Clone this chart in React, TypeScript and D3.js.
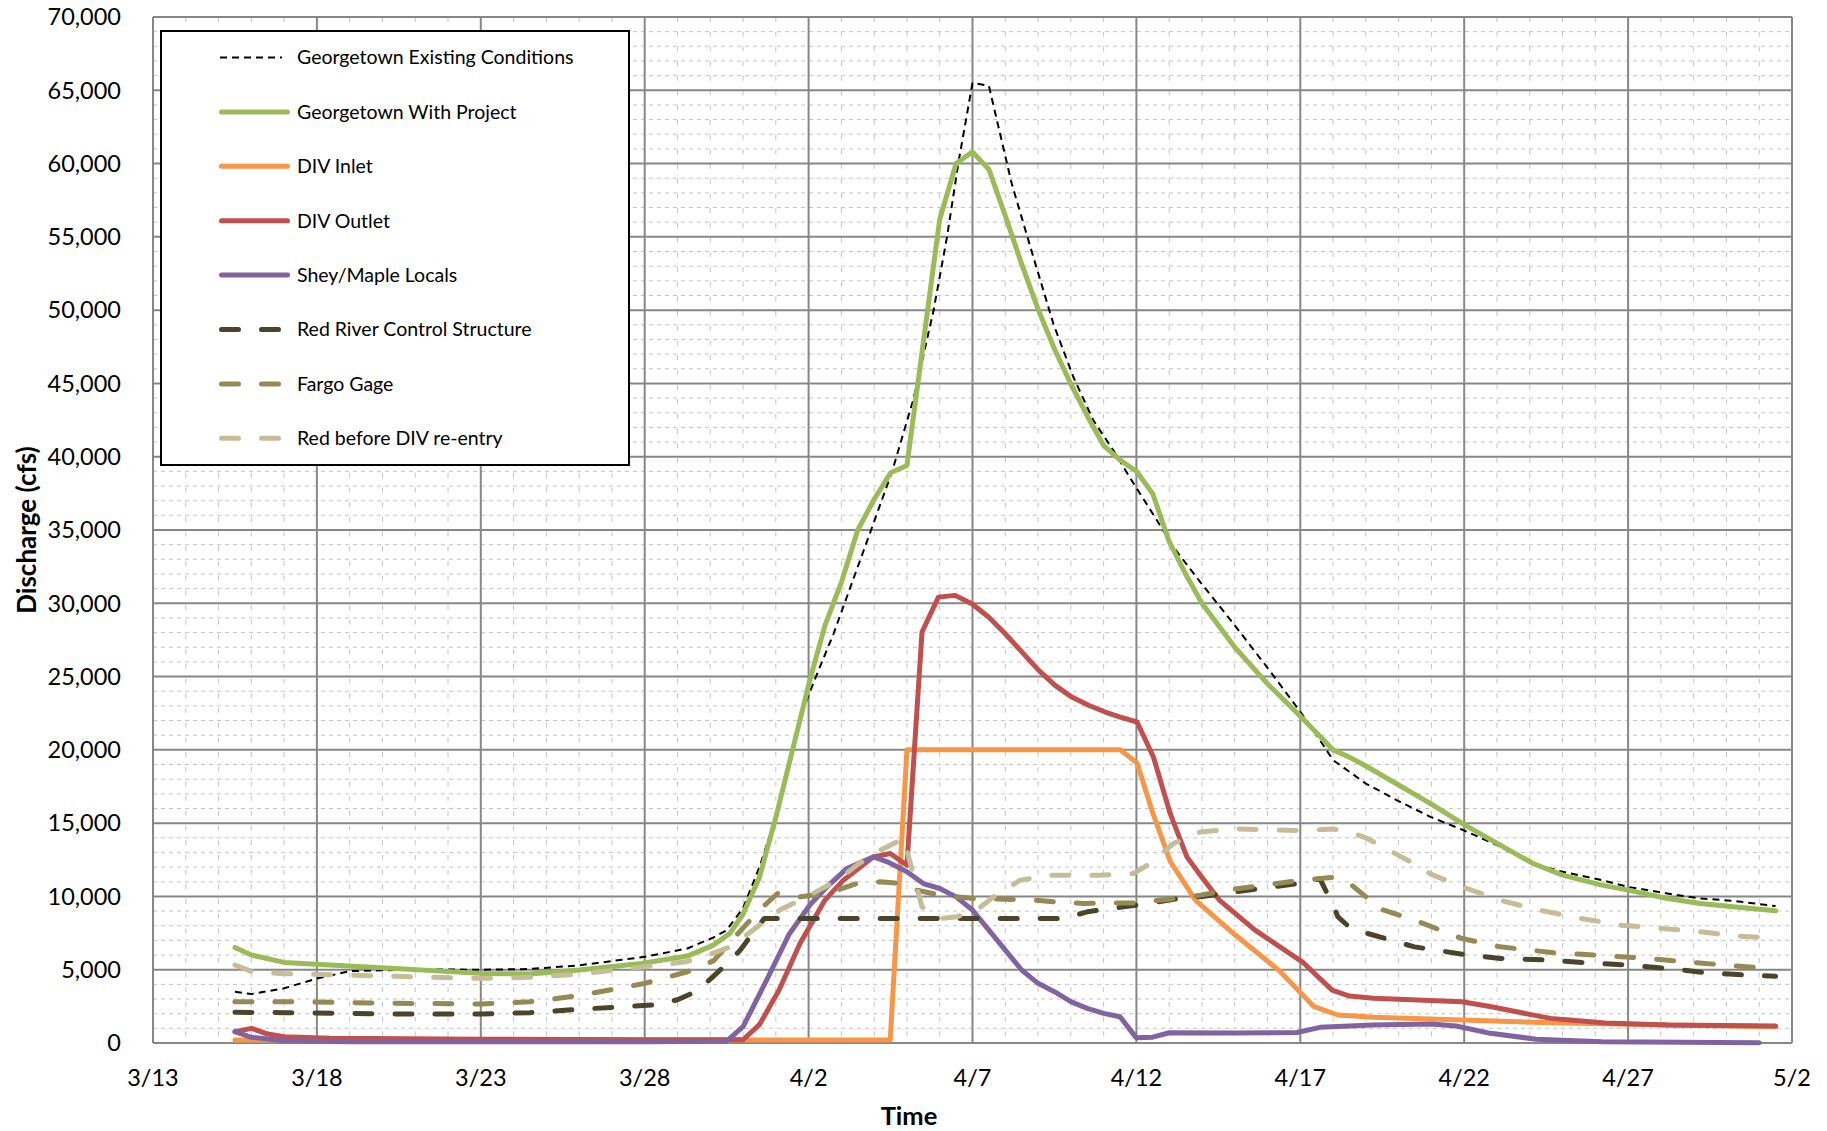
import React from "react";
import * as d3 from "d3";

// ---------- data ----------
const YEAR = 2009;
const xTickLabels = ["3/13", "3/18", "3/23", "3/28", "4/2", "4/7", "4/12", "4/17", "4/22", "4/27", "5/2"];
const yTickValues = [0, 5000, 10000, 15000, 20000, 25000, 30000, 35000, 40000, 45000, 50000, 55000, 60000, 65000, 70000];

type Pt = [number, number]; // [days after 3/13 00:00, discharge in cfs]

const georgetownExisting: Pt[] = [
  [2.5, 3500], [3, 3340], [4, 3730], [5, 4400], [6, 4900], [8, 5020], [10, 5000], [11.5, 5050], [13, 5300],
  [15, 5880], [16.3, 6450], [17.1, 7200], [17.5, 7700], [18, 9200], [18.5, 12000], [19, 15400], [19.74, 22240],
  [20.2, 24860], [20.76, 27920], [21.68, 33600], [22.54, 38940], [23.2, 43940], [23.81, 49960], [24.22, 54960],
  [24.58, 60190], [25, 65500], [25.5, 65300], [26.2, 58600], [26.86, 53600], [27.47, 49050], [28.08, 45420],
  [28.69, 42460], [29.3, 40420], [29.92, 38150], [30.63, 35650], [31.13, 33830], [32, 31300], [33, 28500],
  [34, 25600], [35, 22600], [35.5, 21000], [36, 19300], [36.5, 18500], [37, 17700], [38, 16500], [39, 15400],
  [40, 14500], [41, 13500], [42.1, 12250], [43, 11680], [44.2, 11110], [45, 10650], [46.2, 10200], [47.2, 9860],
  [48.2, 9700], [49.5, 9340],
];

const georgetownWithProject: Pt[] = [
  [2.5, 6520], [3, 6000], [4, 5500], [5.4, 5320], [7.4, 5090], [10, 4750], [11.5, 4700], [13, 4980], [14.9, 5430],
  [16.3, 5930], [17.1, 6680], [17.6, 7480], [18, 8800], [18.5, 11300], [19, 15400], [20.05, 24860], [20.5, 28490],
  [21, 31430], [21.5, 35000], [22, 37100], [22.5, 38900], [23, 39400], [24, 56200], [24.5, 60000], [25, 60800],
  [25.5, 59600], [26, 56440], [26.5, 53140], [27, 50070], [27.5, 47350], [28, 44960], [28.5, 42800], [29, 40760],
  [29.5, 39780], [30, 39010], [30.5, 37470], [31, 34200], [31.5, 32000], [32, 30000], [33, 27000], [34, 24500],
  [35, 22300], [36, 20000], [36.5, 19500], [37, 18900], [38, 17600], [39, 16300], [40, 14900], [41.1, 13500],
  [42.1, 12250], [43, 11450], [44.2, 10770], [45, 10430], [46.2, 9860], [47.2, 9520], [48.2, 9290], [49.5, 9020],
];

const divInlet: Pt[] = [
  [2.5, 200], [22.49, 200], [23, 20000], [29.51, 20000], [30.02, 19100], [30.5, 15700], [31.03, 12400],
  [31.8, 9750], [33, 7400], [34.34, 4975], [35.42, 2475], [36.15, 1910], [37.23, 1750], [39.93, 1570],
  [42.63, 1380], [46.25, 1230], [49.5, 1110],
];

const divOutlet: Pt[] = [
  [2.5, 770], [3, 1000], [3.5, 610], [4, 430], [5.4, 320], [10, 260], [15, 230], [18, 220], [18.5, 1250],
  [19.1, 3610], [19.74, 6800], [20.5, 9750], [21.06, 11110], [21.98, 12700], [22.49, 12930], [23, 12130],
  [23.46, 28040], [23.96, 30420], [24.47, 30540], [24.98, 29970], [25.49, 29060], [26, 27920], [26.51, 26670],
  [27.02, 25420], [27.52, 24400], [28.03, 23600], [28.54, 23040], [29.05, 22580], [29.51, 22240], [30.02, 21900],
  [30.52, 19510], [31.03, 15660], [31.54, 12700], [31.95, 11450], [32.53, 9750], [33.62, 7700], [35.06, 5540],
  [35.97, 3610], [36.5, 3200], [37.23, 3050], [39.93, 2820], [40.83, 2470], [42.63, 1680], [44.3, 1360],
  [46.2, 1220], [49.5, 1160],
];

const sheyMapleLocals: Pt[] = [
  [2.5, 770], [3, 390], [4, 160], [6, 90], [10, 80], [15, 80], [17.5, 120], [18, 1110], [18.7, 4200],
  [19.4, 7400], [20.05, 9450], [20.56, 10650], [21.17, 11910], [21.98, 12700], [22.4, 12360], [23, 11680],
  [23.5, 10880], [24, 10540], [24.5, 9970], [25, 9070], [25.5, 7700], [26, 6340], [26.5, 4980], [27, 4070],
  [27.5, 3500], [28, 2820], [28.5, 2360], [29, 2020], [29.5, 1790], [30, 350], [30.5, 400], [31, 700],
  [33, 680], [34.9, 720], [35.6, 1070], [37.2, 1230], [39, 1300], [39.75, 1160], [40.8, 660], [42.2, 260],
  [44.2, 90], [49, 20],
];

const redRiverControl: Pt[] = [
  [2.5, 2090], [4, 2070], [7.4, 1980], [10, 1980], [11.5, 2070], [13, 2300], [15.3, 2600], [16, 2950],
  [16.6, 3550], [17.07, 4500], [17.5, 5400], [17.9, 6300], [18.3, 7500], [18.65, 8500], [27.8, 8500],
  [28.5, 8950], [29.6, 9290], [30.2, 9470], [31.3, 9860], [32, 10000], [33, 10300], [34, 10600], [35, 10900],
  [35.6, 11200], [36, 9400], [36.15, 8600], [36.5, 7900], [37.04, 7480], [38.48, 6560], [40.12, 6000],
  [41.1, 5770], [42.53, 5660], [43.75, 5470], [44.97, 5320], [46.19, 5090], [47.41, 4790], [48.63, 4630],
  [49.5, 4550],
];

const fargoGage: Pt[] = [
  [2.5, 2820], [4, 2820], [7.4, 2710], [10, 2660], [11.5, 2820], [13, 3230], [15, 4070], [16.3, 4860],
  [17.1, 5600], [17.9, 7600], [18.5, 9070], [19.05, 10200], [19.74, 9970], [20.56, 10200], [21.47, 10880],
  [22.18, 11000], [22.8, 10880], [23.3, 10430], [24.02, 10090], [25.03, 9860], [26.86, 9750], [27.47, 9630],
  [28.39, 9520], [29.92, 9560], [30.93, 9790], [31.95, 10090], [33, 10500], [34, 10800], [35, 11100],
  [36, 11300], [36.5, 10900], [37.04, 9900], [37.23, 9290], [38.49, 8380], [39.93, 7130], [41.1, 6560],
  [42.73, 6160], [43.95, 6000], [45.17, 5840], [46.39, 5610], [47.61, 5380], [48.83, 5160], [49.5, 5050],
];

const redBeforeDivReentry: Pt[] = [
  [2.5, 5320], [3.04, 4860], [4, 4730], [7.4, 4550], [10, 4410], [11.5, 4480], [13, 4700], [15, 5200],
  [16.26, 5540], [17.07, 6110], [17.62, 6560], [18.3, 7700], [19.12, 9070], [19.94, 9970], [20.8, 11000],
  [21.47, 12130], [22.18, 13150], [22.9, 13950], [23.46, 9290], [24.02, 8500], [24.52, 8610], [25.13, 9070],
  [25.64, 9970], [26.46, 11110], [27.37, 11450], [28.9, 11450], [29.92, 11570], [30.42, 12250], [31.13, 13610],
  [31.95, 14400], [33, 14600], [34, 14550], [35, 14500], [36, 14600], [36.5, 14400], [37, 14000], [37.5, 13400],
  [38, 12800], [38.5, 12200], [39, 11500], [40, 10600], [41.16, 9700], [42.3, 9070], [43.55, 8500],
  [44.77, 8040], [45.99, 7820], [47.2, 7590], [48.4, 7290], [49.5, 7150],
];

const seriesNames = [
  "Georgetown Existing Conditions",
  "Georgetown With Project",
  "DIV Inlet",
  "DIV Outlet",
  "Shey/Maple Locals",
  "Red River Control Structure",
  "Fargo Gage",
  "Red before DIV re-entry",
];
const seriesData: Pt[][] = [
  georgetownExisting, georgetownWithProject, divInlet, divOutlet,
  sheyMapleLocals, redRiverControl, fargoGage, redBeforeDivReentry,
];

// ---------- styles ----------
const seriesColors = ["#000000", "#9BBB59", "#F79646", "#C0504D", "#8064A2", "#4A452A", "#948A54", "#C4BD97"];
const seriesWidths = [2, 5, 5, 5, 5, 5, 5, 5];
const seriesDash = ["7 5", "", "", "", "", "17 23", "17 23", "17 23"];
const seriesCaps = ["butt", "round", "round", "round", "round", "round", "round", "round"];

const W = 1827;
const H = 1131;
const PLOT = { left: 153, right: 1792, top: 17, bottom: 1043 };
const FONT = "Lato, 'Open Sans', sans-serif";

export default function App() {
  const parse = d3.utcParse("%Y/%m/%d");
  const tickDates = xTickLabels.map((l) => parse(`${YEAR}/${l}`) as Date);
  const start = tickDates[0];
  const end = tickDates[tickDates.length - 1];

  const x = d3.scaleUtc().domain([start, end]).range([PLOT.left, PLOT.right]);
  const y = d3.scaleLinear().domain([0, 70000]).range([PLOT.bottom, PLOT.top]);
  const toDate = (d: number) => new Date(start.getTime() + d * 864e5);
  const line = d3
    .line<Pt>()
    .x((p) => x(toDate(p[0])))
    .y((p) => y(p[1]));

  const majorSet = new Set(tickDates.map((d) => +d));
  const minorDays = d3.utcDay.range(start, end).filter((d) => !majorSet.has(+d));
  const minorY = d3.range(1000, 70000, 1000).filter((v) => v % 5000 !== 0);
  const fmt = d3.format(",");

  const legend = { x: 161, y: 31, w: 468, h: 434, row0: 57.5, rowStep: 54.4, lx1: 221.5, lx2: 287.5, tx: 297 };

  return (
    <svg
      width={W}
      height={H}
      style={{ position: "absolute", left: 0, top: 0, background: "#fff" }}
      fontFamily={FONT}
    >
      <rect x={0} y={0} width={W} height={H} fill="#fff" />
      {/* minor grid */}
      <g stroke="#c4c4c4" strokeWidth={1}>
        {minorY.map((v) => (
          <line key={"my" + v} x1={PLOT.left} x2={PLOT.right} y1={y(v)} y2={y(v)} strokeDasharray="4 4" />
        ))}
        {minorDays.map((d) => (
          <line key={"mx" + +d} x1={x(d)} x2={x(d)} y1={PLOT.top} y2={PLOT.bottom} strokeDasharray="5 9.7" />
        ))}
      </g>
      {/* major grid */}
      <g stroke="#878787" strokeWidth={2}>
        {yTickValues.map((v) => (
          <line key={"y" + v} x1={PLOT.left} x2={PLOT.right} y1={y(v)} y2={y(v)} />
        ))}
        {tickDates.map((d) => (
          <line key={"x" + +d} x1={x(d)} x2={x(d)} y1={PLOT.top} y2={PLOT.bottom} />
        ))}
      </g>
      {/* y tick labels */}
      <g fontSize={23.5} fill="#000" textAnchor="end">
        {yTickValues.map((v) => (
          <text key={"yl" + v} x={121} y={y(v)} dy="0.35em">
            {fmt(v)}
          </text>
        ))}
      </g>
      {/* x tick labels */}
      <g fontSize={23.5} fill="#000" textAnchor="middle">
        {tickDates.map((d, i) => (
          <text key={"xl" + i} x={x(d)} y={1086}>
            {xTickLabels[i]}
          </text>
        ))}
      </g>
      {/* axis titles */}
      <text x={909} y={1125} textAnchor="middle" fontWeight="bold" fontSize={25.5}>
        Time
      </text>
      <text
        transform={`translate(36,530) rotate(-90)`}
        textAnchor="middle"
        fontWeight="bold"
        fontSize={26}
      >
        Discharge (cfs)
      </text>
      {/* series */}
      <g fill="none">
        {seriesData.map((s, i) => (
          <path
            key={"s" + i}
            d={line(s) || ""}
            stroke={seriesColors[i]}
            strokeWidth={seriesWidths[i]}
            strokeDasharray={seriesDash[i] || undefined}
            strokeLinecap={seriesCaps[i] as any}
            strokeLinejoin="round"
          />
        ))}
      </g>
      {/* legend */}
      <rect x={legend.x} y={legend.y} width={legend.w} height={legend.h} fill="#fff" stroke="#000" strokeWidth={2} />
      {seriesNames.map((name, i) => {
        const ry = legend.row0 + i * legend.rowStep;
        return (
          <g key={"lg" + i}>
            <line
              x1={i === 0 ? 220 : legend.lx1}
              x2={i === 0 ? 282 : legend.lx2}
              y1={ry}
              y2={ry}
              stroke={seriesColors[i]}
              strokeWidth={seriesWidths[i]}
              strokeDasharray={seriesDash[i] || undefined}
              strokeLinecap={seriesCaps[i] as any}
            />
            <text x={legend.tx} y={ry} dy="0.35em" fontSize={19.5} fill="#000">
              {name}
            </text>
          </g>
        );
      })}
    </svg>
  );
}
